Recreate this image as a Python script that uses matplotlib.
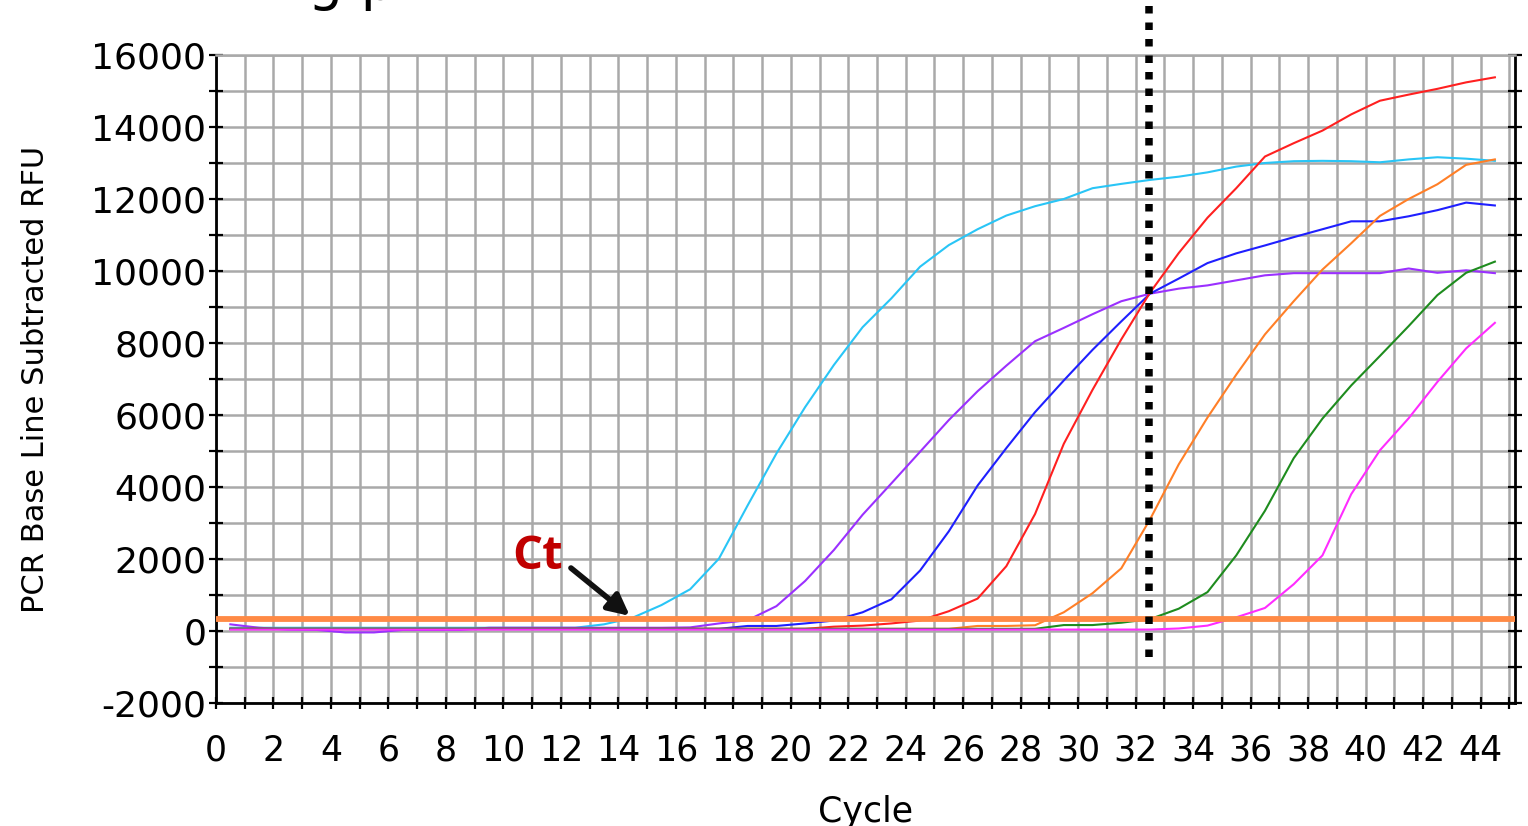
import numpy as np
import matplotlib
matplotlib.use("Agg")
import matplotlib.pyplot as plt
from matplotlib.ticker import MultipleLocator, FuncFormatter

# PCR amplification curves (one value per cycle)
cycles = np.arange(1, 46)
cyan = [90, 90, 90, 90, 90, 90, 90, 90, 90, 90, 90, 90, 90,
        185, 370, 720, 1160, 2010, 3490, 4930, 6220, 7390, 8440,
        9240, 10120, 10720, 11160, 11540, 11800, 12000, 12300, 12420, 12530,
        12620, 12740, 12900, 13000, 13050, 13060, 13050, 13020, 13100, 13160,
        13120, 13060]
purple = [185, 90, 40, 30, -40, -40, 30, 30, 30, 90, 90, 90, 90, 90, 90, 90,
          100, 210, 300, 690, 1390, 2250, 3230, 4100, 4980, 5860, 6660, 7370,
          8050, 8420, 8800, 9160, 9370, 9510, 9600, 9740, 9880, 9940, 9940,
          9940, 9940, 10070, 9950, 10020, 9940]
blue = [60, 60, 60, 60, 60, 60, 60, 60, 60, 60, 60, 60, 60, 60, 60, 60, 60, 60,
        140, 140, 210, 290, 520, 880, 1680, 2770, 4040, 5080, 6080, 6960, 7810,
        8600, 9370, 9790, 10220, 10490, 10710, 10940, 11160, 11380, 11380,
        11520, 11690, 11900, 11820]
red = [60, 60, 60, 60, 60, 60, 60, 60, 60, 60, 60, 60, 60, 60, 60, 60, 60, 60,
       60, 60, 60, 120, 150, 210, 290, 550, 900, 1800, 3250, 5200, 6700, 8100,
       9400, 10500, 11480, 12300, 13180, 13550, 13900, 14350, 14730, 14900,
       15060, 15240, 15380]
orange = [60, 60, 60, 60, 60, 60, 60, 60, 60, 60, 60, 60, 60, 60, 60, 60, 60,
          60, 60, 60, 60, 60, 60, 60, 60, 60, 140, 140, 160, 520, 1050, 1740,
          3100, 4630, 5930, 7120, 8240, 9160, 10040, 10770, 11530, 12000,
          12410, 12950, 13100]
green = [60, 60, 60, 60, 60, 60, 60, 60, 60, 60, 60, 60, 60, 60, 60, 60, 60,
         60, 60, 60, 60, 60, 60, 60, 60, 60, 60, 60, 60, 165, 165, 230, 330,
         620, 1080, 2100, 3340, 4800, 5900, 6820, 7640, 8470, 9330, 9950, 10260]
magenta = [40, 40, 40, 40, 40, 40, 40, 40, 40, 40, 40, 40, 40, 40, 40, 40, 40,
           40, 40, 40, 40, 40, 40, 40, 40, 40, 40, 40, 40, 40, 40, 40, 40, 70,
           150, 380, 640, 1300, 2100, 3800, 5020, 5910, 6920, 7850, 8560]

threshold = 330
ct_cycle = 32.45

series = [(cyan, "#29c5f6"), (purple, "#9b30ff"), (blue, "#1f1fff"),
          (red, "#ff2020"), (orange, "#ff7f27"), (green, "#1e8c1e"),
          (magenta, "#ff2cff")]

W, H = 1528, 826
fig = plt.figure(figsize=(W / 100, H / 100), dpi=100)
ax = fig.add_axes([216 / W, 1 - 703 / H, (1515 - 216) / W, (703 - 55) / H])

x = cycles - 0.5
for vals, col in series:
    ax.plot(x, vals, color=col, lw=1.5, zorder=3)

ax.axhline(threshold, color="#ff8a45", lw=4.2, zorder=4)
ax.plot([ct_cycle, ct_cycle], [-720, 17500], color="black", lw=5.4,
        linestyle=(0, (1.0, 1.2)), dash_capstyle="butt", clip_on=False, zorder=5)

ax.set_xlim(0, 45.2)
ax.set_ylim(-2000, 16000)
ax.xaxis.set_major_locator(MultipleLocator(1))
ax.yaxis.set_major_locator(MultipleLocator(1000))
ax.xaxis.set_major_formatter(FuncFormatter(lambda v, p: "%d" % v if int(round(v)) % 2 == 0 else ""))
ax.yaxis.set_major_formatter(FuncFormatter(lambda v, p: "%d" % v if int(round(v)) % 2000 == 0 else ""))

ax.set_axisbelow(True)
ax.grid(True, color="#a9a9a9", lw=1.8)
for s in ["left", "bottom", "right"]:
    ax.spines[s].set_color("black")
    ax.spines[s].set_linewidth(2)
ax.spines["top"].set_color("#a9a9a9")
ax.spines["top"].set_linewidth(1.8)

ax.tick_params(axis="y", direction="inout", length=10, width=1.6, right=True,
               labelsize=26, pad=2)
ax.tick_params(axis="x", direction="inout", length=8, width=1.6,
               labelsize=25, pad=18)

ax.set_xlabel("Cycle", fontsize=25, labelpad=20)
ax.set_ylabel("PCR Base Line Subtracted RFU", fontsize=22, labelpad=30)

# Ct annotation
ax.annotate("", xy=(14.4, 420), xytext=(12.35, 1750),
            arrowprops=dict(arrowstyle="-|>", color="#111111", lw=4,
                            mutation_scale=32, shrinkA=0, shrinkB=0), zorder=6)
ax.text(10.3, 1720, "Ct", color="#c00000", fontsize=34, fontweight="bold",
        family=["Open Sans", "DejaVu Sans"], ha="left", va="baseline", zorder=6)

# cut-off title at the very top (only the descenders show, as in the source)
fig.text(308 / W, 1 + 1 / H, "g p", fontsize=40, ha="left", va="baseline")

fig.savefig("out.png", dpi=100)
